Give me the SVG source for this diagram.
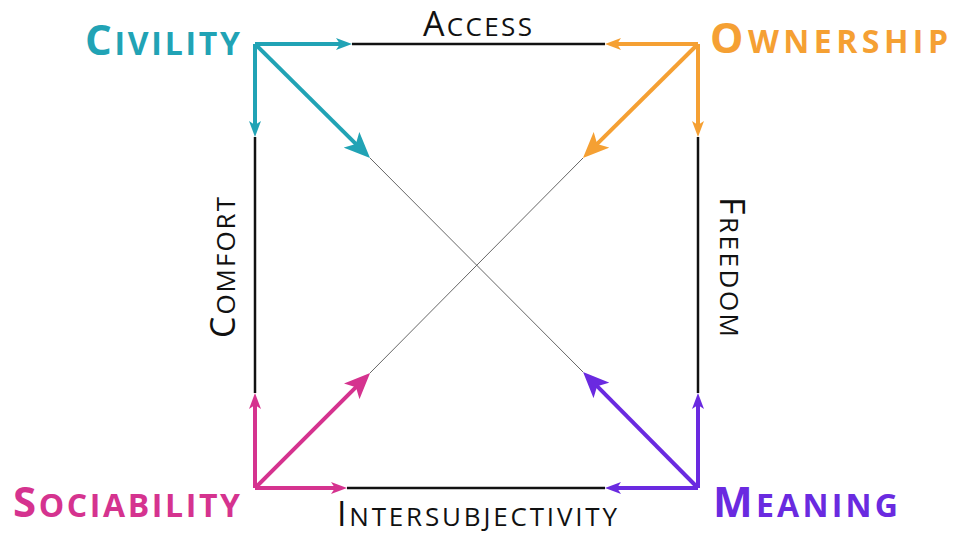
<svg xmlns="http://www.w3.org/2000/svg" width="959" height="537" viewBox="0 0 959 537">
<defs>
<style>
.lbl{font-family:"Open Sans",Lato,"Liberation Sans",sans-serif;font-weight:bold}
.side{font-family:"Open Sans",Lato,"Liberation Sans",sans-serif;font-weight:normal;fill:#111}
.blk{stroke:#111;stroke-width:2.5;fill:none}
.thin{stroke:#666;stroke-width:1;fill:none}
.arr{stroke-width:4;fill:none}
.teal{stroke:#21a3b5}.org{stroke:#f5a033}.pnk{stroke:#d5338f}.pur{stroke:#6a2ae0}
</style>
<marker id="sT" viewBox="0 0 16 12" markerWidth="16" markerHeight="12" refX="6" refY="6" orient="auto" markerUnits="userSpaceOnUse"><path d="M0,0 L16,6 L0,12 L4,6 z" fill="#21a3b5"/></marker>
<marker id="bT" viewBox="0 0 26 22" markerWidth="26" markerHeight="22" refX="12" refY="11" orient="auto" markerUnits="userSpaceOnUse"><path d="M0,0 L26,11 L0,22 L6,11 z" fill="#21a3b5"/></marker>
<marker id="sO" viewBox="0 0 16 12" markerWidth="16" markerHeight="12" refX="6" refY="6" orient="auto" markerUnits="userSpaceOnUse"><path d="M0,0 L16,6 L0,12 L4,6 z" fill="#f5a033"/></marker>
<marker id="bO" viewBox="0 0 26 22" markerWidth="26" markerHeight="22" refX="12" refY="11" orient="auto" markerUnits="userSpaceOnUse"><path d="M0,0 L26,11 L0,22 L6,11 z" fill="#f5a033"/></marker>
<marker id="sP" viewBox="0 0 16 12" markerWidth="16" markerHeight="12" refX="6" refY="6" orient="auto" markerUnits="userSpaceOnUse"><path d="M0,0 L16,6 L0,12 L4,6 z" fill="#d5338f"/></marker>
<marker id="bP" viewBox="0 0 26 22" markerWidth="26" markerHeight="22" refX="12" refY="11" orient="auto" markerUnits="userSpaceOnUse"><path d="M0,0 L26,11 L0,22 L6,11 z" fill="#d5338f"/></marker>
<marker id="sU" viewBox="0 0 16 12" markerWidth="16" markerHeight="12" refX="6" refY="6" orient="auto" markerUnits="userSpaceOnUse"><path d="M0,0 L16,6 L0,12 L4,6 z" fill="#6a2ae0"/></marker>
<marker id="bU" viewBox="0 0 26 22" markerWidth="26" markerHeight="22" refX="12" refY="11" orient="auto" markerUnits="userSpaceOnUse"><path d="M0,0 L26,11 L0,22 L6,11 z" fill="#6a2ae0"/></marker>
</defs>
<rect width="959" height="537" fill="#fff"/>
<g id="connectors">
<line class="blk" x1="352" y1="44" x2="605" y2="44"/>
<line class="blk" x1="255" y1="137" x2="255" y2="393"/>
<line class="blk" x1="698" y1="137" x2="698" y2="393"/>
<line class="blk" x1="347" y1="488" x2="605" y2="488"/>
<line class="thin" x1="370" y1="158" x2="583" y2="372"/>
<line class="thin" x1="583" y1="158" x2="370" y2="373"/>
<line class="arr teal" x1="255" y1="44" x2="342" y2="44" marker-end="url(#sT)"/>
<line class="arr teal" x1="255" y1="44" x2="255" y2="127" marker-end="url(#sT)"/>
<line class="arr teal" x1="255" y1="44" x2="360.1" y2="148.2" marker-end="url(#bT)"/>
<line class="arr org" x1="698" y1="44" x2="615" y2="44" marker-end="url(#sO)"/>
<line class="arr org" x1="698" y1="44" x2="698" y2="127" marker-end="url(#sO)"/>
<line class="arr org" x1="698" y1="44" x2="592.9" y2="148.2" marker-end="url(#bO)"/>
<line class="arr pnk" x1="255" y1="488" x2="255" y2="403" marker-end="url(#sP)"/>
<line class="arr pnk" x1="255" y1="488" x2="337" y2="488" marker-end="url(#sP)"/>
<line class="arr pnk" x1="255" y1="488" x2="360.2" y2="382.9" marker-end="url(#bP)"/>
<line class="arr pur" x1="698" y1="488" x2="698" y2="403" marker-end="url(#sU)"/>
<line class="arr pur" x1="698" y1="488" x2="615" y2="488" marker-end="url(#sU)"/>
<line class="arr pur" x1="698" y1="488" x2="592.9" y2="381.9" marker-end="url(#bU)"/>
</g>
<g id="civility"><text class="lbl" x="85" y="55" fill="#21a3b5" textLength="155" lengthAdjust="spacing"><tspan font-size="42">C</tspan><tspan font-size="32">IVILITY</tspan></text></g>
<g id="ownership"><text class="lbl" x="710" y="53" fill="#f5a033" textLength="238" lengthAdjust="spacing"><tspan font-size="42">O</tspan><tspan font-size="32">WNERSHIP</tspan></text></g>
<g id="sociability"><text class="lbl" x="13" y="517" fill="#d5338f" textLength="227" lengthAdjust="spacing"><tspan font-size="42">S</tspan><tspan font-size="32">OCIABILITY</tspan></text></g>
<g id="meaning"><text class="lbl" x="713" y="517" fill="#6a2ae0" textLength="185" lengthAdjust="spacing"><tspan font-size="42">M</tspan><tspan font-size="32">EANING</tspan></text></g>
<g id="access"><text class="side" x="423" y="36" textLength="109" lengthAdjust="spacing"><tspan font-size="34">A</tspan><tspan font-size="26">CCESS</tspan></text></g>
<g id="intersubjectivity"><text class="side" x="337" y="526" textLength="280" lengthAdjust="spacing"><tspan font-size="34">I</tspan><tspan font-size="26">NTERSUBJECTIVITY</tspan></text></g>
<g id="comfort"><text class="side" transform="translate(235,338) rotate(-90)" textLength="141" lengthAdjust="spacing"><tspan font-size="34">C</tspan><tspan font-size="26">OMFORT</tspan></text></g>
<g id="freedom"><text class="side" transform="translate(720,197) rotate(90)" textLength="140" lengthAdjust="spacing"><tspan font-size="34">F</tspan><tspan font-size="26">REEDOM</tspan></text></g>
</svg>
